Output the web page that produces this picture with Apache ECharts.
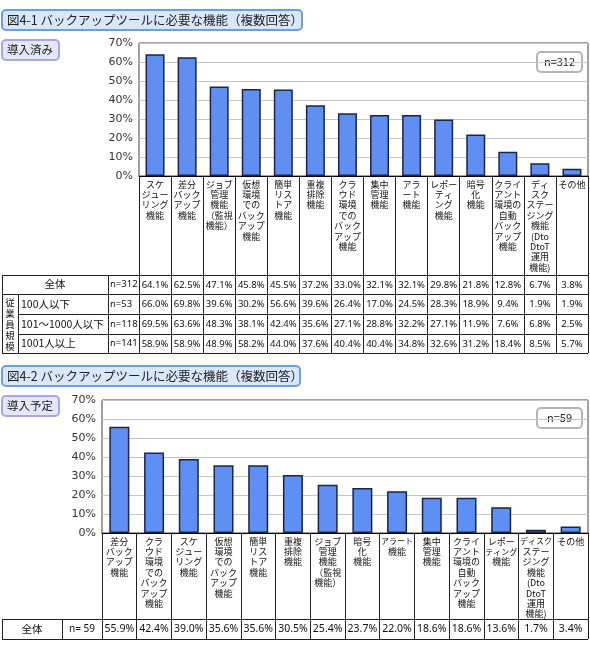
<!DOCTYPE html>
<html>
<head>
<meta charset="utf-8">
<script src="https://cdn.jsdelivr.net/npm/echarts@6/dist/echarts.min.js"></script>
<style>
html, body { margin: 0; padding: 0; background: #fff; }
#chart { width: 590px; height: 652px; }
</style>
</head>
<body>
<div id="chart"></div>
<script>
// ---- data: 図4-1 導入済み ----
const cats1 = [
	'スケ\nジュー\nリング\n機能', '差分\nバック\nアップ\n機能', 'ジョブ\n管理\n機能\n（監視\n機能）',
	'仮想\n環境\nでの\nバック\nアップ\n機能', '簡単\nリス\nトア\n機能', '重複\n排除\n機能',
	'クラ\nウド\n環境\nでの\nバック\nアップ\n機能', '集中\n管理\n機能', 'アラ\nート\n機能',
	'レポー\nティ\nング\n機能', '暗号\n化\n機能', 'クライ\nアント\n環境の\n自動\nバック\nアップ\n機能',
	'ディ\nスク\nステー\nジング\n機能\n(Dto\nDtoT\n運用\n機能)', 'その他'
]
const rowNames1 = ['全体', '100人以下', '101〜1000人以下', '1001人以上']
const rowN1 = ['n=312', 'n=53', 'n=118', 'n=141']
const rowAll1 = [64.1, 62.5, 47.1, 45.8, 45.5, 37.2, 33.0, 32.1, 32.1, 29.8, 21.8, 12.8, 6.7, 3.8]
const rowSmall1 = [66.0, 69.8, 39.6, 30.2, 56.6, 39.6, 26.4, 17.0, 24.5, 28.3, 18.9, 9.4, 1.9, 1.9]
const rowMid1 = [69.5, 63.6, 48.3, 38.1, 42.4, 35.6, 27.1, 28.8, 32.2, 27.1, 11.9, 7.6, 6.8, 2.5]
const rowLarge1 = [58.9, 58.9, 48.9, 58.2, 44.0, 37.6, 40.4, 40.4, 34.8, 32.6, 31.2, 18.4, 8.5, 5.7]

// ---- data: 図4-2 導入予定 ----
const cats2 = [
	'差分\nバック\nアップ\n機能', 'クラ\nウド\n環境\nでの\nバック\nアップ\n機能', 'スケ\nジュー\nリング\n機能',
	'仮想\n環境\nでの\nバック\nアップ\n機能', '簡単\nリス\nトア\n機能', '重複\n排除\n機能',
	'ジョブ\n管理\n機能\n（監視\n機能）', '暗号\n化\n機能', 'アラート\n機能', '集中\n管理\n機能',
	'クライ\nアント\n環境の\n自動\nバック\nアップ\n機能', 'レポー\nティング\n機能',
	'ディスク\nステー\nジング\n機能\n(Dto\nDtoT\n運用\n機能)', 'その他'
]
const rowN2 = 'n= 59'
const rowAll2 = [55.9, 42.4, 39.0, 35.6, 35.6, 30.5, 25.4, 23.7, 22.0, 18.6, 18.6, 13.6, 1.7, 3.4]

const yTicks = { min: 0, max: 70, interval: 10 }

// ---- layout ----
const W = 590
const JP = '"Noto Sans CJK JP", sans-serif'
const g1 = { left: 139, top: 43, height: 133 }
const g2 = { left: 102, top: 400, height: 133 }
const tableRows1 = [275, 294, 314, 334, 353]
const tableRows2 = [619, 639]
const barColor = '#5f8ff3'
const barBorder = '#1c2545'

const fmt = v => v.toFixed(1) + '%'
// long kana lines are squeezed a little so they stay inside their cell
const labelFmt = v => v.split('\n').map(s => (s.length >= 4 && /[^\x00-\x7f]/.test(s) ? '{s|' + s + '}' : s)).join('\n')

function mainX(gridIndex, cats, tickLen) {
	return {
		gridIndex, type: 'category', data: cats,
		axisLine: { lineStyle: { color: '#000', width: 1 } },
		axisTick: { show: true, interval: 0, length: tickLen, lineStyle: { color: '#222' } },
		axisLabel: {
			interval: 0, margin: 3, fontSize: 9, lineHeight: 10.4, color: '#111', fontFamily: JP,
			formatter: labelFmt,
			rich: { s: { fontSize: 8, lineHeight: 10.4, color: '#111', fontFamily: JP } }
		},
		splitLine: { show: false }
	}
}
function rowX(gridIndex, cats, values, offset, fontSize) {
	return {
		gridIndex, type: 'category', data: cats, position: 'bottom', offset,
		axisLine: { show: false }, axisTick: { show: false }, splitLine: { show: false },
		axisLabel: {
			interval: 0, margin: 0, verticalAlign: 'middle', fontSize, color: '#111',
			fontFamily: '"Noto Sans", sans-serif',
			formatter: (v, i) => fmt(values[i])
		}
	}
}
function yAx(gridIndex) {
	return {
		gridIndex, type: 'value', ...yTicks,
		axisLine: { show: false }, axisTick: { show: false },
		axisLabel: { formatter: '{value}%', fontSize: 11, color: '#333', margin: 6, fontFamily: '"DejaVu Sans", sans-serif' },
		splitLine: { lineStyle: { color: '#c6c6c6', width: 1 } }
	}
}
function box(x, y, w, h, fill, stroke, label, fontSize, tx) {
	return [
		{ type: 'rect', shape: { x, y, width: w, height: h, r: 4 }, style: { fill, stroke, lineWidth: 2 } },
		{ type: 'text', x: tx == null ? x + 5 : tx, y: y + h / 2,
			style: { text: label, font: fontSize + 'px ' + JP, fill: '#222', verticalAlign: 'middle', align: tx == null ? 'left' : 'center' } }
	]
}
function hline(x1, x2, y) {
	return { type: 'line', shape: { x1, y1: y + 0.5, x2, y2: y + 0.5 }, style: { stroke: '#222', lineWidth: 1 } }
}
function vline(x, y1, y2) {
	return { type: 'line', shape: { x1: x + 0.5, y1, x2: x + 0.5, y2 }, style: { stroke: '#222', lineWidth: 1 } }
}
function cellText(x, y, text, align, size, family) {
	return { type: 'text', x, y, style: { text, align, verticalAlign: 'middle', fill: '#111', font: size + 'px ' + (family || JP) } }
}

const bottom1 = g1.top + g1.height
const bottom2 = g2.top + g2.height
const rightEdge = W - 2
const mid = (a, b) => (a + b) / 2
const rows1 = [rowAll1, rowSmall1, rowMid1, rowLarge1]

const xAxes = [mainX(0, cats1, tableRows1[4] - bottom1)]
rows1.forEach((r, i) => {
	xAxes.push(rowX(0, cats1, r, mid(tableRows1[i], tableRows1[i + 1]) - bottom1 + 0.5, 9.5))
})
xAxes.push(mainX(1, cats2, tableRows2[1] - bottom2))
xAxes.push(rowX(1, cats2, rowAll2, mid(tableRows2[0], tableRows2[1]) - bottom2 + 0.5, 10.5))

const vertHead = cellText(10, mid(tableRows1[1], tableRows1[4]) + 1, '従\n業\n員\n規\n模', 'center', 9.5)
vertHead.style.lineHeight = 11

const graphics = [
	...box(2, 10, 300, 20, '#d8e7fa', '#6c9de8', '図4-1 バックアップツールに必要な機能（複数回答）', 12.5),
	...box(2, 40, 57, 20, '#e6e6f8', '#a6a6e6', '導入済み', 11.5),
	...box(537, 52, 45, 20, '#fff', '#b4b4b4', 'n=312', 11, 559.5),
	...box(2, 366, 298, 20, '#d8e7fa', '#6c9de8', '図4-2 バックアップツールに必要な機能（複数回答）', 12.5),
	...box(2, 396, 57, 20, '#e6e6f8', '#a6a6e6', '導入予定', 11.5),
	...box(537, 408, 45, 20, '#fff', '#b4b4b4', 'n=59', 11, 559.5),
	// table 1 rules
	hline(2, rightEdge, tableRows1[0]),
	hline(2, rightEdge, tableRows1[1]),
	hline(18, rightEdge, tableRows1[2]),
	hline(18, rightEdge, tableRows1[3]),
	hline(2, rightEdge, tableRows1[4]),
	vline(2, tableRows1[0], tableRows1[4]),
	vline(18, tableRows1[1], tableRows1[4]),
	vline(108, tableRows1[0], tableRows1[4]),
	cellText(55, mid(tableRows1[0], tableRows1[1]), rowNames1[0], 'center', 10.5),
	vertHead,
	// table 2 rules
	hline(2, rightEdge, tableRows2[0]),
	hline(2, rightEdge, tableRows2[1]),
	vline(2, tableRows2[0], tableRows2[1]),
	vline(62, tableRows2[0], tableRows2[1]),
	cellText(32, mid(tableRows2[0], tableRows2[1]), '全体', 'center', 10.5),
	cellText(82, mid(tableRows2[0], tableRows2[1]), rowN2, 'center', 10, '"Noto Sans", sans-serif')
]
rowNames1.forEach((name, i) => {
	const y = mid(tableRows1[i], tableRows1[i + 1])
	if (i > 0) graphics.push(cellText(21, y, name, 'left', 10.5))
	graphics.push(cellText(110, y, rowN1[i], 'left', 9.5, '"Noto Sans", sans-serif'))
})

const chart = echarts.init(document.getElementById('chart'), null, { renderer: 'canvas' })
chart.setOption({
	animation: false,
	backgroundColor: '#fff',
	textStyle: { fontFamily: JP },
	grid: [
		{ left: g1.left, right: 2, top: g1.top, height: g1.height, show: true, borderColor: '#444', borderWidth: 1, outerBoundsMode: 'none' },
		{ left: g2.left, right: 2, top: g2.top, height: g2.height, show: true, borderColor: '#444', borderWidth: 1, outerBoundsMode: 'none' }
	],
	xAxis: xAxes,
	yAxis: [yAx(0), yAx(1)],
	series: [
		{
			type: 'bar', xAxisIndex: 0, yAxisIndex: 0, data: rowAll1, barWidth: 19,
			itemStyle: { color: barColor, borderColor: barBorder, borderWidth: 1.5 }
		},
		{
			type: 'bar', xAxisIndex: 5, yAxisIndex: 1, data: rowAll2, barWidth: 20,
			itemStyle: { color: barColor, borderColor: barBorder, borderWidth: 1.5 }
		}
	],
	graphic: graphics
})
</script>
</body>
</html>
